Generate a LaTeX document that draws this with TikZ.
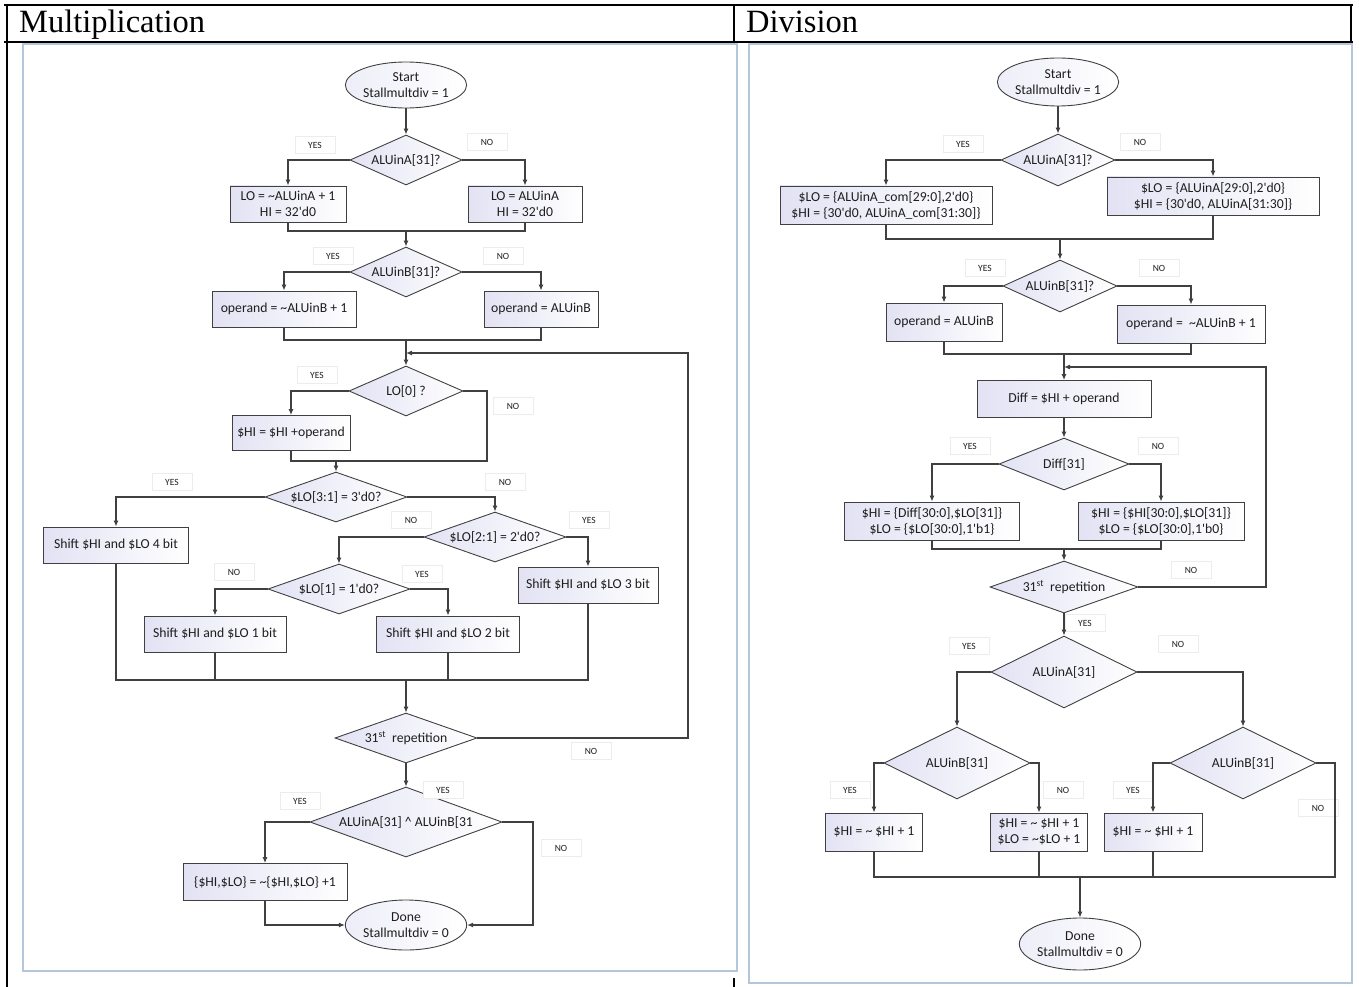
\documentclass[tikz,border=0pt]{standalone}
\usepackage{fontspec}
\setmainfont{Liberation Serif}
\newfontfamily\carlito{Carlito}
\usetikzlibrary{shapes.geometric,arrows.meta}
\definecolor{lc}{HTML}{404040}
\definecolor{fillc}{HTML}{E2E2F4}
\definecolor{txt}{HTML}{1E1E1E}
\definecolor{panel}{HTML}{B4C6DA}
\newcommand\apos{\textquotesingle}
\tikzset{
  ln/.style={draw=lc, line width=1.1pt},
  arr/.style={ln, -{Latex[length=6pt,width=5pt]}},
  pbox/.style={draw=lc, line width=0.9pt, left color=fillc, right color=white, minimum height=36, inner sep=2pt, align=center, text=txt, font=\carlito\fontsize{13.7}{16}\selectfont},
  dia/.style={diamond, draw=lc, line width=0.9pt, left color=fillc, right color=white, inner sep=0pt, text=txt, font=\carlito\fontsize{13.7}{16}\selectfont},
  term/.style={ellipse, draw=lc, line width=0.9pt, left color=fillc!60, right color=white, inner sep=0pt, align=center, text=txt, font=\carlito\fontsize{13.7}{16}\selectfont},
  yn/.style={draw=gray!15, fill=white, minimum width=40, minimum height=17, inner sep=0pt, text=txt, font=\carlito\fontsize{9.5}{10}\selectfont},
  ttl/.style={anchor=base west, inner sep=0pt, font=\fontsize{32.5}{36}\selectfont},
  pnl/.style={draw=panel, line width=1.5pt}
}
\begin{document}
\begin{tikzpicture}[x=1pt,y=-1pt]
\useasboundingbox (0,0) rectangle (1359,987);
% table
\draw[black, line width=2pt] (4,5) -- (1353,5);
\draw[black, line width=2pt] (4,42) -- (1353,42);
\draw[black, line width=2pt] (7,4) -- (7,987);
\draw[black, line width=2pt] (734,4) -- (734,42);
\draw[black, line width=2pt] (734,978) -- (734,987);
\draw[black, line width=2pt] (1351,4) -- (1351,42);
\node[ttl] (t1) at (19,33) {Multiplication};
\node[ttl] (t2) at (746,33) {Division};
% panels
\draw[pnl] (23,44) rectangle (737,971);
\draw[pnl] (749,44) rectangle (1352,983);

% ================= LEFT =================
\node[term, minimum width=112, minimum height=46] (ls) at (406,85) {Start\\Stallmultdiv = 1};
\node[dia, minimum width=112, minimum height=50] (la) at (406,160) {\makebox[0pt]{ALUinA[31]?}};
\node[yn] (ly1) at (315,145) {YES};
\node[yn] (ln1) at (487,142) {NO};
\node[pbox, minimum width=116] (lb1) at (288,204) {LO = \textasciitilde ALUinA + 1\\HI = 32\apos d0};
\node[pbox, minimum width=114] (lb2) at (525,204) {LO = ALUinA\\HI = 32\apos d0};
\draw[arr] (ls) -- (la);
\draw[arr] (la.west) -| (lb1);
\draw[arr] (la.east) -| (lb2);
\coordinate (lm1) at (406,231);
\draw[ln] (lb1.south) |- (lb2.south |- lm1) -- (lb2.south);

\node[dia, minimum width=112, minimum height=50] (lbb) at (406,272) {\makebox[0pt]{ALUinB[31]?}};
\draw[arr] (lm1) -- (lbb);
\node[yn] (ly2) at (333,256) {YES};
\node[yn] (ln2) at (503,256) {NO};
\node[pbox, minimum width=144] (lb3) at (284,309) {operand = \textasciitilde ALUinB + 1};
\node[pbox, minimum width=114] (lb4) at (541,309) {operand = ALUinB};
\draw[arr] (lbb.west) -| (lb3);
\draw[arr] (lbb.east) -| (lb4);
\coordinate (lm2) at (406,340);
\draw[ln] (lb3.south) |- (lb4.south |- lm2) -- (lb4.south);
\coordinate (lj) at (406,353);

\node[dia, minimum width=114, minimum height=50] (lc) at (406,391) {\makebox[0pt]{LO[0] ?}};
\draw[arr] (lm2) -- (lc);
\node[yn] (ly3) at (317,375) {YES};
\node[yn] (ln3) at (513,406) {NO};
\node[pbox, minimum width=118, minimum height=35] (lb5) at (291,433) {\$HI = \$HI +operand};
\draw[arr] (lc.west) -| (lb5);
\coordinate (lm3) at (336,461);
\coordinate (lc3) at (487,461);
\draw[ln] (lc.east) -| (lc3) -- (lb5.south |- lc3) -- (lb5.south);

\node[dia, minimum width=142, minimum height=50] (ld) at (336,497) {\makebox[0pt]{\$LO[3:1] = 3\apos d0?}};
\draw[arr] (lm3) -- (ld);
\node[yn] (ly4) at (172,482) {YES};
\node[yn] (ln4) at (505,482) {NO};
\node[pbox, minimum width=145] (lb6) at (116,545) {Shift \$HI and \$LO 4 bit};
\draw[arr] (ld.west) -| (lb6);

\node[dia, minimum width=142, minimum height=50] (le) at (495,537) {\makebox[0pt]{\$LO[2:1] = 2\apos d0?}};
\draw[arr] (ld.east) -| (le);
\node[yn] (ln5) at (411,520) {NO};
\node[yn] (ly5) at (589,520) {YES};
\node[pbox, minimum width=140] (lb7) at (588,585) {Shift \$HI and \$LO 3 bit};
\draw[arr] (le.east) -| (lb7);

\node[dia, minimum width=142, minimum height=50] (lf) at (339,589) {\makebox[0pt]{\$LO[1] = 1\apos d0?}};
\draw[arr] (le.west) -| (lf);
\node[yn] (ln6) at (234,572) {NO};
\node[yn] (ly6) at (422,574) {YES};
\node[pbox, minimum width=142] (lb8) at (215,634) {Shift \$HI and \$LO 1 bit};
\node[pbox, minimum width=143] (lb9) at (448,634) {Shift \$HI and \$LO 2 bit};
\draw[arr] (lf.west) -| (lb8);
\draw[arr] (lf.east) -| (lb9);

\coordinate (lm4) at (406,680);
\draw[ln] (lb6.south) |- (lb7.south |- lm4) -- (lb7.south);
\draw[ln] (lb8.south) -- (lb8.south |- lm4);
\draw[ln] (lb9.south) -- (lb9.south |- lm4);

\node[dia, minimum width=142, minimum height=50] (lg) at (406,738) {\makebox[0pt]{31\textsuperscript{st}\ \ repetition}};
\draw[arr] (lm4) -- (lg);
\node[yn] (ln7) at (591,751) {NO};
\coordinate (lloop) at (688,353);
\draw[arr] (lg.east) -| (lloop) -- (lj);

\node[dia, minimum width=192, minimum height=70] (lh) at (406,822) {\makebox[0pt]{ALUinA[31] \textasciicircum{} ALUinB[31}};
\draw[arr] (lg) -- (lh);
\node[yn] (ly7) at (443,790) {YES};
\node[yn] (ly8) at (300,801) {YES};
\node[yn] (ln8) at (561,848) {NO};
\node[pbox, minimum width=164, minimum height=37] (lb10) at (265,882) {\{\$HI,\$LO\} = \textasciitilde\{\$HI,\$LO\} +1};
\draw[arr] (lh.west) -| (lb10);
\node[term, minimum width=114, minimum height=50] (ldone) at (406,925) {Done\\Stallmultdiv = 0};
\draw[arr] (lb10.south) |- (ldone.west);
\coordinate (lr2) at (533,925);
\draw[arr] (lh.east) -| (lr2) -- (ldone.east);

% ================= RIGHT =================
\node[term, minimum width=116, minimum height=48] (rs) at (1058,82) {Start\\Stallmultdiv = 1};
\node[dia, minimum width=114, minimum height=52] (ra) at (1058,160) {\makebox[0pt]{ALUinA[31]?}};
\draw[arr] (rs) -- (ra);
\node[yn] (ry1) at (963,144) {YES};
\node[yn] (rn1) at (1140,142) {NO};
\node[pbox, minimum width=212, minimum height=38] (rb1) at (886,205) {\$LO = \{ALUinA\_com[29:0],2\apos d0\}\\\$HI = \{30\apos d0, ALUinA\_com[31:30]\}};
\node[pbox, minimum width=212, minimum height=38] (rb2) at (1213,196) {\$LO = \{ALUinA[29:0],2\apos d0\}\\\$HI = \{30\apos d0, ALUinA[31:30]\}};
\draw[arr] (ra.west) -| (rb1);
\draw[arr] (ra.east) -| (rb2);
\coordinate (rm1) at (1060,239);
\draw[ln] (rb1.south) |- (rb2.south |- rm1) -- (rb2.south);

\node[dia, minimum width=114, minimum height=52] (rbb) at (1060,286) {\makebox[0pt]{ALUinB[31]?}};
\draw[arr] (rm1) -- (rbb);
\node[yn] (ry2) at (985,268) {YES};
\node[yn] (rn2) at (1159,268) {NO};
\node[pbox, minimum width=116, minimum height=38] (rb3) at (944,322) {operand = ALUinB};
\node[pbox, minimum width=148, minimum height=38] (rb4) at (1191,324) {operand = \ \textasciitilde ALUinB + 1};
\draw[arr] (rbb.west) -| (rb3);
\draw[arr] (rbb.east) -| (rb4);
\coordinate (rm2) at (1064,354);
\draw[ln] (rb3.south) |- (rb4.south |- rm2) -- (rb4.south);
\coordinate (rj) at (1064,367);

\node[pbox, minimum width=174, minimum height=37] (rd) at (1064,399) {Diff = \$HI + operand};
\draw[arr] (rm2) -- (rd);
\node[dia, minimum width=130, minimum height=52] (rc) at (1064,464) {\makebox[0pt]{Diff[31]}};
\draw[arr] (rd) -- (rc);
\node[yn] (ry3) at (970,446) {YES};
\node[yn] (rn3) at (1158,446) {NO};
\node[pbox, minimum width=175, minimum height=38] (rb5) at (932,521) {\$HI = \{Diff[30:0],\$LO[31]\}\\\$LO = \{\$LO[30:0],1\apos b1\}};
\node[pbox, minimum width=166, minimum height=38] (rb6) at (1161,521) {\$HI = \{\$HI[30:0],\$LO[31]\}\\\$LO = \{\$LO[30:0],1\apos b0\}};
\draw[arr] (rc.west) -| (rb5);
\draw[arr] (rc.east) -| (rb6);
\coordinate (rm3) at (1064,549);
\draw[ln] (rb5.south) |- (rb6.south |- rm3) -- (rb6.south);

\node[dia, minimum width=148, minimum height=52] (rr) at (1064,587) {\makebox[0pt]{31\textsuperscript{st}\ \ repetition}};
\draw[arr] (rm3) -- (rr);
\coordinate (rloop) at (1266,367);
\draw[arr] (rr.east) -| (rloop) -- (rj);
\node[yn] (rn4) at (1191,570) {NO};
\node[yn] (ry4) at (1085,623) {YES};

\node[dia, minimum width=146, minimum height=72] (re) at (1064,672) {\makebox[0pt]{ALUinA[31]}};
\draw[arr] (rr) -- (re);
\node[yn] (ry5) at (969,646) {YES};
\node[yn] (rn5) at (1178,644) {NO};
\node[dia, minimum width=146, minimum height=72] (rf) at (957,763) {\makebox[0pt]{ALUinB[31]}};
\node[dia, minimum width=146, minimum height=72] (rg) at (1243,763) {\makebox[0pt]{ALUinB[31]}};
\draw[arr] (re.west) -| (rf);
\draw[arr] (re.east) -| (rg);
\node[yn] (ry6) at (850,790) {YES};
\node[yn] (rn6) at (1063,790) {NO};
\node[yn] (ry7) at (1133,790) {YES};
\node[yn] (rn7) at (1318,808) {NO};
\node[pbox, minimum width=97, minimum height=38] (rh1) at (874,832) {\$HI = \textasciitilde{} \$HI + 1};
\node[pbox, minimum width=97, minimum height=38] (rh2) at (1039,832) {\$HI = \textasciitilde{} \$HI + 1\\\$LO = \textasciitilde\$LO + 1};
\node[pbox, minimum width=98, minimum height=38] (rh3) at (1153,832) {\$HI = \textasciitilde{} \$HI + 1};
\draw[arr] (rf.west) -| (rh1);
\draw[arr] (rf.east) -| (rh2);
\draw[arr] (rg.west) -| (rh3);
\coordinate (rm4) at (1080,877);
\coordinate (rgc) at (1335,877);
\draw[ln] (rh1.south) |- (rgc) |- (rg.east);
\draw[ln] (rh2.south) -- (rh2.south |- rm4);
\draw[ln] (rh3.south) -- (rh3.south |- rm4);
\node[term, minimum width=116, minimum height=52] (rdone) at (1080,944) {Done\\Stallmultdiv = 0};
\draw[arr] (rm4) -- (rdone);
\end{tikzpicture}
\end{document}
